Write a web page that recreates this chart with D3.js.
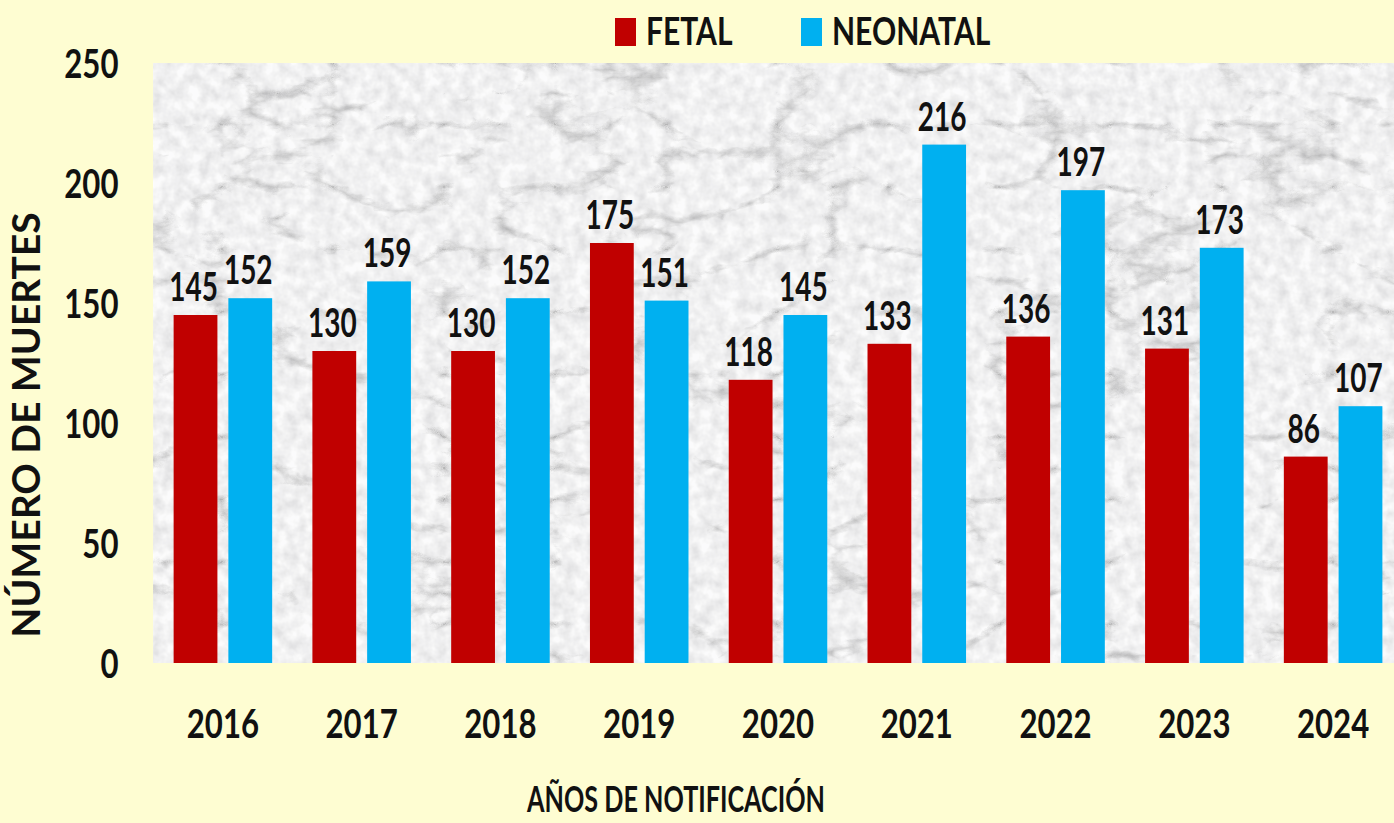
<!DOCTYPE html>
<html>
<head>
<meta charset="utf-8">
<script src="https://cdn.jsdelivr.net/npm/d3@7"></script>
<style>
html,body{margin:0;padding:0;background:#FEFDD2;}
svg{display:block;}
text{font-family:Lato,"Open Sans",sans-serif;font-weight:bold;fill:#111;}
</style>
</head>
<body>
<svg id="chart" width="1394" height="823"></svg>
<script>
const years = ["2016","2017","2018","2019","2020","2021","2022","2023","2024"];
const seriesNames = ["FETAL","NEONATAL"];
const fetal = [145,130,130,175,118,133,136,131,86];
const neonatal = [152,159,152,151,145,216,197,173,107];
const yTicks = [0,50,100,150,200,250];
const colors = {FETAL:"#C00000", NEONATAL:"#00B0F0"};

const W = 1394, H = 823;
const plot = {left:153.5, right:1402.5, top:63, bottom:663};
const SX = 0.76;
const svg = d3.select("#chart");

function condense(sel, sx){
  sel.each(function(){
    const t = d3.select(this);
    const x = +t.attr("x") || 0, y = +t.attr("y") || 0;
    t.attr("transform", `translate(${x},${y}) scale(${sx},1) translate(${-x},${-y})`);
  });
}

svg.append("rect").attr("width",W).attr("height",H).attr("fill","#FEFDD2");

// marble texture
const defs = svg.append("defs");
const f = defs.append("filter").attr("id","marble").attr("x",0).attr("y",0).attr("width",1).attr("height",1);
f.append("feTurbulence").attr("type","turbulence").attr("baseFrequency","0.009 0.016")
  .attr("numOctaves",6).attr("seed",11).attr("result","t");
f.append("feColorMatrix").attr("in","t").attr("type","matrix")
  .attr("values","2.1 0 0 0 0.55  2.1 0 0 0 0.55  2.1 0 0 0 0.57  0 0 0 0 1").attr("result","c");
f.append("feColorMatrix").attr("in","c").attr("type","saturate").attr("values","0").attr("result","g");
f.append("feTurbulence").attr("type","fractalNoise").attr("baseFrequency","0.08")
  .attr("numOctaves",3).attr("seed",3).attr("result","n");
f.append("feColorMatrix").attr("in","n").attr("type","matrix")
  .attr("values","0 0 0 0 0.5  0 0 0 0 0.5  0 0 0 0 0.52  0.8 0 0 0 -0.2").attr("result","n2");
f.append("feBlend").attr("in","g").attr("in2","n2").attr("mode","multiply");
const clip = defs.append("clipPath").attr("id","pc");
clip.append("rect").attr("x",plot.left).attr("y",plot.top).attr("width",W-plot.left).attr("height",plot.bottom-plot.top);

svg.append("rect").attr("x",plot.left).attr("y",plot.top)
  .attr("width",W-plot.left).attr("height",plot.bottom-plot.top)
  .attr("fill","#d8d8da");
svg.append("rect").attr("x",plot.left).attr("y",plot.top)
  .attr("width",W-plot.left).attr("height",plot.bottom-plot.top)
  .attr("filter","url(#marble)").attr("opacity",0.92);

const x0 = d3.scaleBand().domain(years).range([plot.left, plot.right]).paddingInner(0.29).paddingOuter(0.145);
const x1 = d3.scaleBand().domain(seriesNames).range([0, x0.bandwidth()]).paddingInner(0.2).paddingOuter(0);
const y = d3.scaleLinear().domain([0,250]).range([plot.bottom, plot.top]);

const data = years.map((yr,i)=>({year:yr, values:[{s:"FETAL",v:fetal[i]},{s:"NEONATAL",v:neonatal[i]}]}));

const g = svg.append("g").attr("clip-path","url(#pc)");
const groups = g.selectAll("g.grp").data(data).join("g").attr("class","grp")
  .attr("transform",d=>`translate(${x0(d.year)},0)`);
groups.selectAll("rect").data(d=>d.values).join("rect")
  .attr("x",d=>x1(d.s)).attr("width",x1.bandwidth())
  .attr("y",d=>y(d.v)).attr("height",d=>y(0)-y(d.v))
  .attr("fill",d=>colors[d.s]);

const lg = svg.append("g");
const lgroups = lg.selectAll("g").data(data).join("g")
  .attr("transform",d=>`translate(${x0(d.year)},0)`);
const labels = lgroups.selectAll("text").data(d=>d.values).join("text")
  .attr("x",d=>x1(d.s)+x1.bandwidth()/2-2).attr("y",d=>y(d.v)-14)
  .attr("text-anchor","middle").attr("font-size",40).text(d=>d.v);
condense(labels, 0.7);

// Y axis
const yAxis = d3.axisLeft(y).tickValues(yTicks).tickSize(0).tickPadding(35);
const ya = svg.append("g").attr("transform",`translate(${plot.left},0)`).call(yAxis);
ya.select(".domain").remove();
ya.selectAll("text").attr("font-size",41).attr("fill","#111").attr("dy","0.36em")
  .style("font-family",'Lato,sans-serif').style("font-weight","bold");
condense(ya.selectAll("text"), SX);

// X axis
const xAxis = d3.axisBottom(x0).tickSize(0).tickPadding(75);
const xa = svg.append("g").attr("transform",`translate(0,${plot.bottom})`).call(xAxis);
xa.select(".domain").remove();
xa.selectAll("text").attr("font-size",41).attr("fill","#111").attr("dy","0")
  .style("font-family",'Lato,sans-serif').style("font-weight","bold");
condense(xa.selectAll("text"), SX);

// axis titles
const xt = svg.append("text").attr("x",676).attr("y",812).attr("text-anchor","middle")
  .attr("font-size",36).text("AÑOS DE NOTIFICACIÓN");
condense(xt, 0.7);
svg.append("text").attr("transform","translate(40,425) rotate(-90)").attr("text-anchor","middle")
  .attr("font-size",39).text("NÚMERO DE MUERTES");

// legend
const legendItems = [{s:"FETAL",x:615},{s:"NEONATAL",x:801}];
const leg = svg.append("g");
const li = leg.selectAll("g").data(legendItems).join("g").attr("transform",d=>`translate(${d.x},0)`);
li.append("rect").attr("x",0).attr("y",18).attr("width",21).attr("height",28).attr("fill",d=>colors[d.s]);
const lt = li.append("text").attr("x",31).attr("y",45).attr("font-size",38).text(d=>d.s);
condense(lt, 0.79);
</script>
</body>
</html>
